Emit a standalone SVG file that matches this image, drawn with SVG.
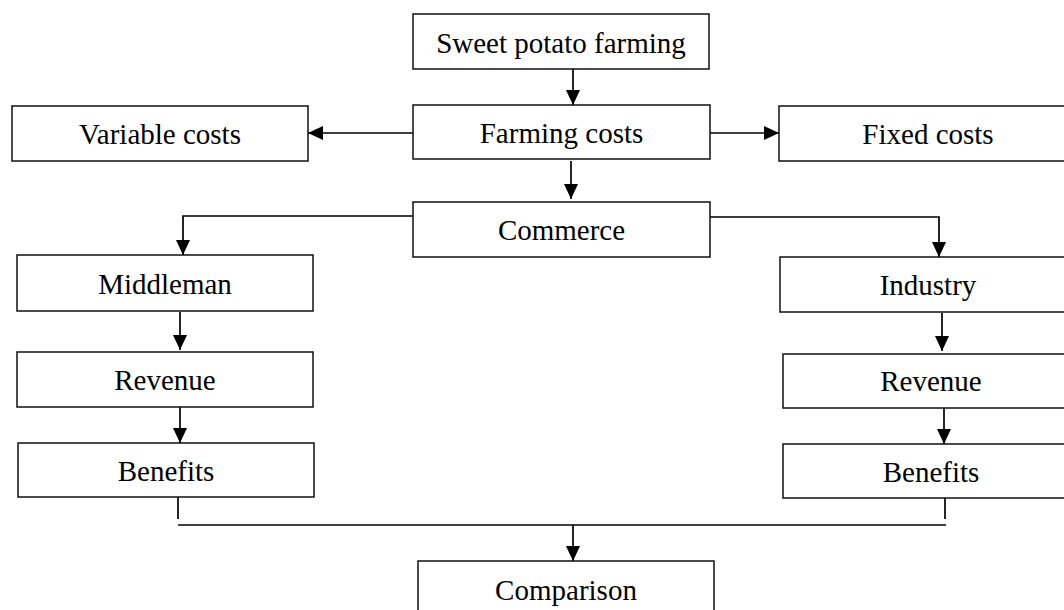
<svg xmlns="http://www.w3.org/2000/svg" width="1064" height="610" viewBox="0 0 1064 610">
<style>
.box{fill:#fff;stroke:#111;stroke-width:1.5}
.lbl{font-family:"Liberation Serif","Times New Roman",serif;font-size:29px;fill:#000;text-anchor:middle}
.ln{fill:none;stroke:#000;stroke-width:1.7}
</style>
<defs>
<marker id="ah" markerUnits="userSpaceOnUse" markerWidth="15" markerHeight="15" viewBox="0 0 15 15" refX="15" refY="7.5" orient="auto">
<path d="M0,0.5 L15,7.5 L0,14.5 z" fill="#000"/>
</marker>
</defs>
<rect width="1064" height="610" fill="#fff"/>
<g id="connectors">
<path class="ln" d="M573,69 V105" marker-end="url(#ah)"/>
<path class="ln" d="M571,161 V199" marker-end="url(#ah)"/>
<path class="ln" d="M413,133 H308" marker-end="url(#ah)"/>
<path class="ln" d="M710,133 H779" marker-end="url(#ah)"/>
<path class="ln" d="M413,216 H183 V255" marker-end="url(#ah)"/>
<path class="ln" d="M710,217 H939 V257" marker-end="url(#ah)"/>
<path class="ln" d="M180,312 V350" marker-end="url(#ah)"/>
<path class="ln" d="M180,407 V443" marker-end="url(#ah)"/>
<path class="ln" d="M942,313 V351" marker-end="url(#ah)"/>
<path class="ln" d="M944,408 V444" marker-end="url(#ah)"/>
<path class="ln" d="M178,497 V519"/>
<path class="ln" d="M945,498 V519"/>
<path class="ln" d="M178,525 H946"/>
<path class="ln" d="M573,525 V561" marker-end="url(#ah)"/>
</g>
<g id="n-sweet"><rect class="box" x="413" y="14" width="296" height="55"/><text class="lbl" x="561" y="52.5">Sweet potato farming</text></g>
<g id="n-farming"><rect class="box" x="413" y="105" width="297" height="54"/><text class="lbl" x="561.5" y="142.5">Farming costs</text></g>
<g id="n-variable"><rect class="box" x="12" y="106" width="296" height="55"/><text class="lbl" x="160" y="144">Variable costs</text></g>
<g id="n-fixed"><rect class="box" x="779" y="106" width="298" height="55"/><text class="lbl" x="928" y="144">Fixed costs</text></g>
<g id="n-commerce"><rect class="box" x="413" y="202" width="297" height="55"/><text class="lbl" x="561.5" y="240">Commerce</text></g>
<g id="n-middleman"><rect class="box" x="17" y="255" width="296" height="56"/><text class="lbl" x="165" y="294">Middleman</text></g>
<g id="n-industry"><rect class="box" x="780" y="257" width="296" height="55"/><text class="lbl" x="928" y="295">Industry</text></g>
<g id="n-revenue-l"><rect class="box" x="17" y="352" width="296" height="55"/><text class="lbl" x="165" y="390">Revenue</text></g>
<g id="n-revenue-r"><rect class="box" x="783" y="354" width="296" height="54"/><text class="lbl" x="931" y="391">Revenue</text></g>
<g id="n-benefits-l"><rect class="box" x="18" y="443" width="296" height="54"/><text class="lbl" x="166" y="481">Benefits</text></g>
<g id="n-benefits-r"><rect class="box" x="783" y="444" width="296" height="54"/><text class="lbl" x="931" y="482">Benefits</text></g>
<g id="n-comparison"><rect class="box" x="418" y="561" width="296" height="60"/><text class="lbl" x="566" y="599.5">Comparison</text></g>
</svg>
